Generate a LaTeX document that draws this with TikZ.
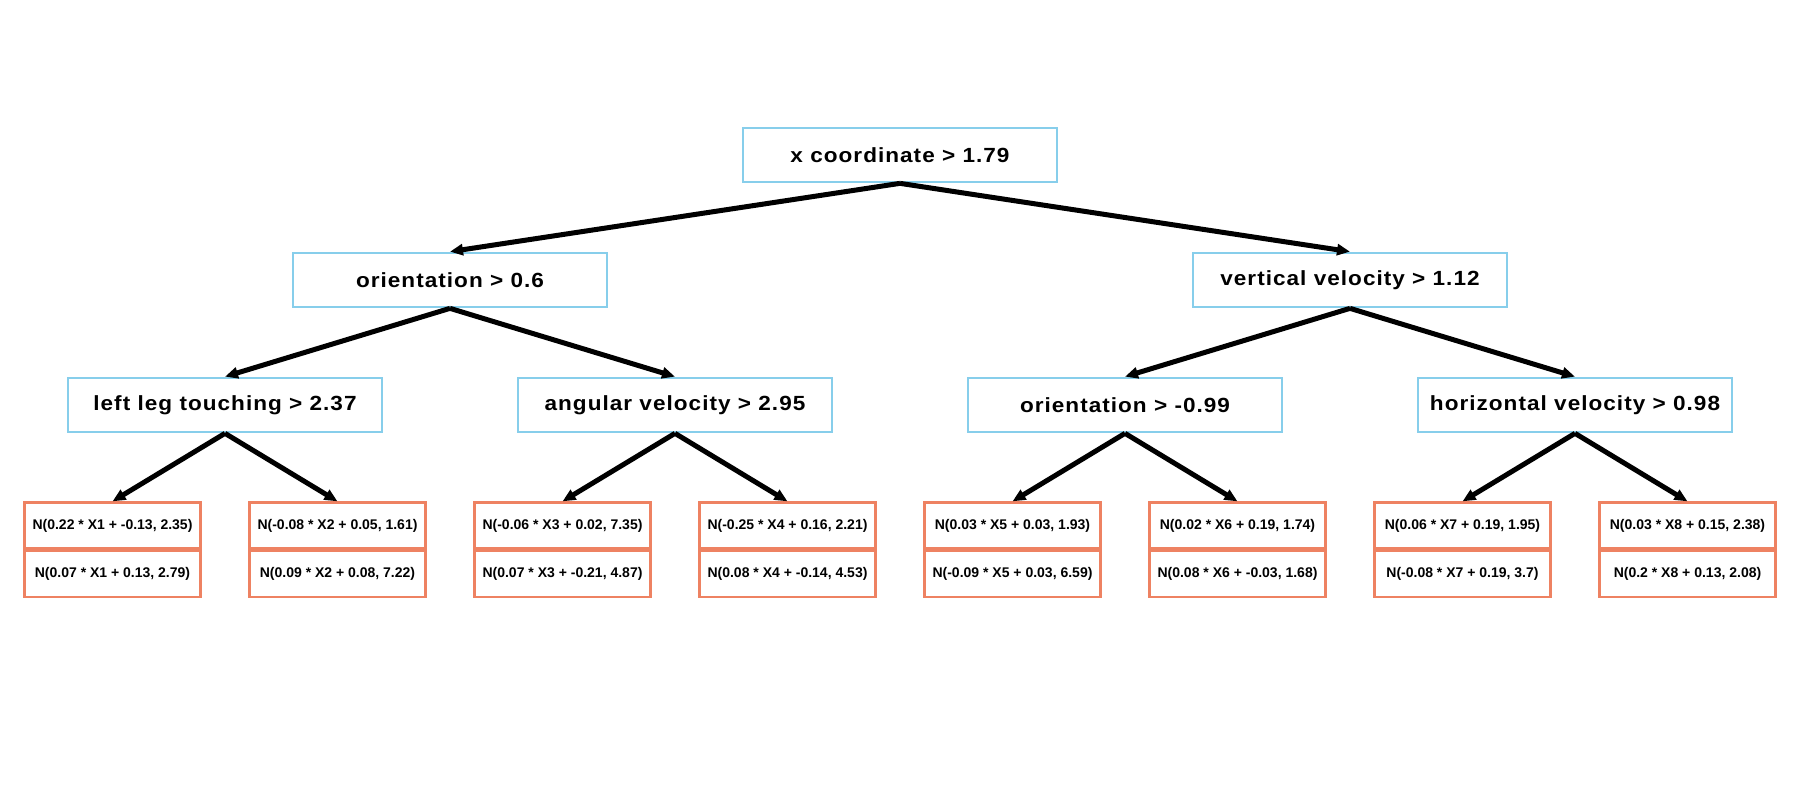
\documentclass[tikz,border=0pt]{standalone}
\usepackage{fontspec}
\setmainfont{Liberation Sans}
\newfontfamily\decfont[FakeStretch=1.1,LetterSpace=5]{Liberation Sans}
\newfontfamily\leaffont{Liberation Sans}
\usetikzlibrary{arrows.meta}
\definecolor{decblue}{RGB}{135,206,235}
\definecolor{leafred}{RGB}{238,130,98}
\tikzset{
  decbox/.style={draw=decblue, line width=2.7pt, minimum width=314pt, minimum height=54pt, inner sep=0pt, font=\decfont\bfseries\fontsize{20.5}{24}\selectfont},
  leafbox/.style={draw=leafred, line width=2.7pt, minimum width=176pt, minimum height=46pt, inner sep=0pt, font=\leaffont\bfseries\fontsize{14}{16}\selectfont},
  edge/.style={draw=black, line width=5pt, -{Triangle[length=13pt,width=11pt]}}
}
\begin{document}
\begin{tikzpicture}[x=1pt,y=-1pt]
\useasboundingbox (0,0) rectangle (1800,800);
\node[decbox] (r) at (900,155) {x coordinate > 1.79};
\node[decbox] (a) at (450,280) {orientation > 0.6};
\node[decbox] (b) at (1350,280) {vertical velocity > 1.12};
\node[decbox] (a1) at (225,405) {left leg touching > 2.37};
\node[decbox] (a2) at (675,405) {angular velocity > 2.95};
\node[decbox] (b1) at (1125,405) {orientation > -0.99};
\node[decbox] (b2) at (1575,405) {horizontal velocity > 0.98};
% leaves
\node[leafbox] (l1t) at (112.5,525.7) {N(0.22 * X1 + -0.13, 2.35)};
\node[leafbox] (l1b) at (112.5,574.1) {N(0.07 * X1 + 0.13, 2.79)};
\node[leafbox] (l2t) at (337.5,525.7) {N(-0.08 * X2 + 0.05, 1.61)};
\node[leafbox] (l2b) at (337.5,574.1) {N(0.09 * X2 + 0.08, 7.22)};
\node[leafbox] (l3t) at (562.5,525.7) {N(-0.06 * X3 + 0.02, 7.35)};
\node[leafbox] (l3b) at (562.5,574.1) {N(0.07 * X3 + -0.21, 4.87)};
\node[leafbox] (l4t) at (787.5,525.7) {N(-0.25 * X4 + 0.16, 2.21)};
\node[leafbox] (l4b) at (787.5,574.1) {N(0.08 * X4 + -0.14, 4.53)};
\node[leafbox] (l5t) at (1012.5,525.7) {N(0.03 * X5 + 0.03, 1.93)};
\node[leafbox] (l5b) at (1012.5,574.1) {N(-0.09 * X5 + 0.03, 6.59)};
\node[leafbox] (l6t) at (1237.5,525.7) {N(0.02 * X6 + 0.19, 1.74)};
\node[leafbox] (l6b) at (1237.5,574.1) {N(0.08 * X6 + -0.03, 1.68)};
\node[leafbox] (l7t) at (1462.5,525.7) {N(0.06 * X7 + 0.19, 1.95)};
\node[leafbox] (l7b) at (1462.5,574.1) {N(-0.08 * X7 + 0.19, 3.7)};
\node[leafbox] (l8t) at (1687.5,525.7) {N(0.03 * X8 + 0.15, 2.38)};
\node[leafbox] (l8b) at (1687.5,574.1) {N(0.2 * X8 + 0.13, 2.08)};
% edges
\draw[edge] (r.south) -- (a.north);
\draw[edge] (r.south) -- (b.north);
\draw[edge] (a.south) -- (a1.north);
\draw[edge] (a.south) -- (a2.north);
\draw[edge] (b.south) -- (b1.north);
\draw[edge] (b.south) -- (b2.north);
\draw[edge] (a1.south) -- (l1t.north);
\draw[edge] (a1.south) -- (l2t.north);
\draw[edge] (a2.south) -- (l3t.north);
\draw[edge] (a2.south) -- (l4t.north);
\draw[edge] (b1.south) -- (l5t.north);
\draw[edge] (b1.south) -- (l6t.north);
\draw[edge] (b2.south) -- (l7t.north);
\draw[edge] (b2.south) -- (l8t.north);
\end{tikzpicture}
\end{document}
